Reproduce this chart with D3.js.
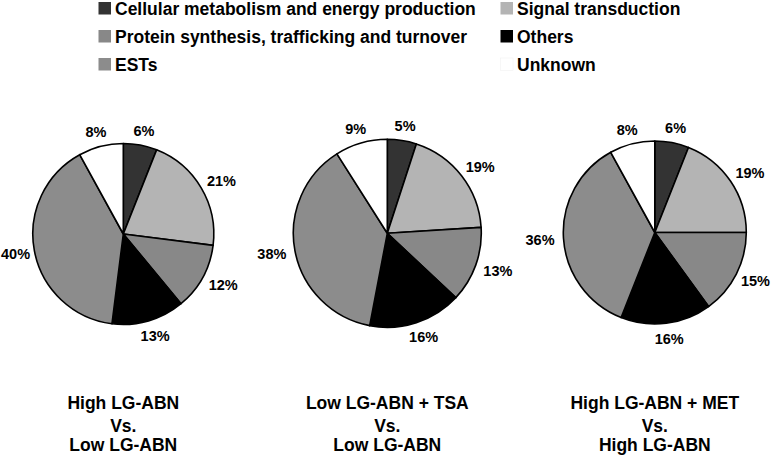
<!DOCTYPE html>
<html>
<head>
<meta charset="utf-8">
<script src="https://cdn.jsdelivr.net/npm/d3@7"></script>
<style>
html,body{margin:0;padding:0;background:#fff;}
svg{display:block;}
text{font-family:"Liberation Sans",Arial,Helvetica,sans-serif;font-weight:bold;fill:#000;}
</style>
</head>
<body>
<svg id="chart" width="771" height="455"></svg>
<script>
const categories = ["Cellular metabolism and energy production","Signal transduction","Protein synthesis, trafficking and turnover","Others","ESTs","Unknown"];
const colors = ["#333333","#b4b4b4","#888888","#000000","#8c8c8c","#ffffff"];
const pie1 = [6, 21, 12, 13, 40, 8];
const pie2 = [5, 19, 13, 16, 38, 9];
const pie3 = [6, 19, 15, 16, 36, 8];
const titles = [
  ["High LG-ABN","Vs.","Low LG-ABN"],
  ["Low LG-ABN + TSA","Vs.","Low LG-ABN"],
  ["High LG-ABN + MET","Vs.","High LG-ABN"]
];
const legendOrder = [0,1,2,3,4,5];

const svg = d3.select("#chart");

// Legend: two columns, three rows
const legendCols = [98.5, 500.5];
const legendRows = [15, 43, 71];
const leg = svg.append("g");
legendOrder.forEach((ci, i) => {
  const col = i % 2, row = Math.floor(i / 2);
  const g = leg.append("g").attr("transform", `translate(${legendCols[col]},${legendRows[row]})`);
  g.append("rect").attr("x", 0).attr("y", -13).attr("width", 12.5).attr("height", 12.5)
    .attr("fill", colors[ci]).attr("stroke", ci === 5 ? "#f0f0f0" : "none").attr("stroke-width", 0.5);
  g.append("text").attr("x", 16.5).attr("y", 0).attr("font-size", "17.5px").text(categories[ci]);
});

const pies = [
  {data: pie1, cx: 123.3, cy: 234, r: 90.5, title: titles[0]},
  {data: pie2, cx: 387.3, cy: 233.3, r: 94, title: titles[1]},
  {data: pie3, cx: 654.8, cy: 232.5, r: 91.5, title: titles[2]}
];

const pieGen = d3.pie().sort(null).value(d => d);

pies.forEach(p => {
  const g = svg.append("g").attr("transform", `translate(${p.cx},${p.cy})`);
  const arc = d3.arc().innerRadius(0).outerRadius(p.r);
  const arcs = pieGen(p.data);
  g.selectAll("path.slice").data(arcs).enter().append("path")
    .attr("class", "slice")
    .attr("d", arc)
    .attr("fill", (d, i) => colors[i])
    .attr("stroke", "#000").attr("stroke-width", 1.6).attr("stroke-linejoin", "round");

  // labels
  const labelSize = 14.5;
  g.selectAll("text.lbl").data(arcs).enter().append("text")
    .attr("class", "lbl")
    .attr("font-size", labelSize + "px")
    .attr("text-anchor", "middle")
    .text(d => d.value + "%")
    .each(function(d) {
      const a = (d.startAngle + d.endAngle) / 2;
      const s = Math.sin(a), c = Math.cos(a);
      const w = this.getComputedTextLength();
      const rr = p.r + 9;
      let x = rr * s + s * w / 2;
      const y = -rr * c - c * 6;
      const minX = -p.cx + w / 2 + 1, maxX = 771 - p.cx - w / 2 - 1;
      x = Math.max(minX, Math.min(maxX, x));
      d3.select(this).attr("x", x).attr("y", y + 5.5);
    });

  // title
  const t = svg.append("text").attr("text-anchor", "middle").attr("font-size", "17.5px");
  const baselines = [409, 431.5, 451];
  p.title.forEach((line, i) => {
    t.append("tspan").attr("x", p.cx).attr("y", baselines[i]).text(line);
  });
});
</script>
</body>
</html>
